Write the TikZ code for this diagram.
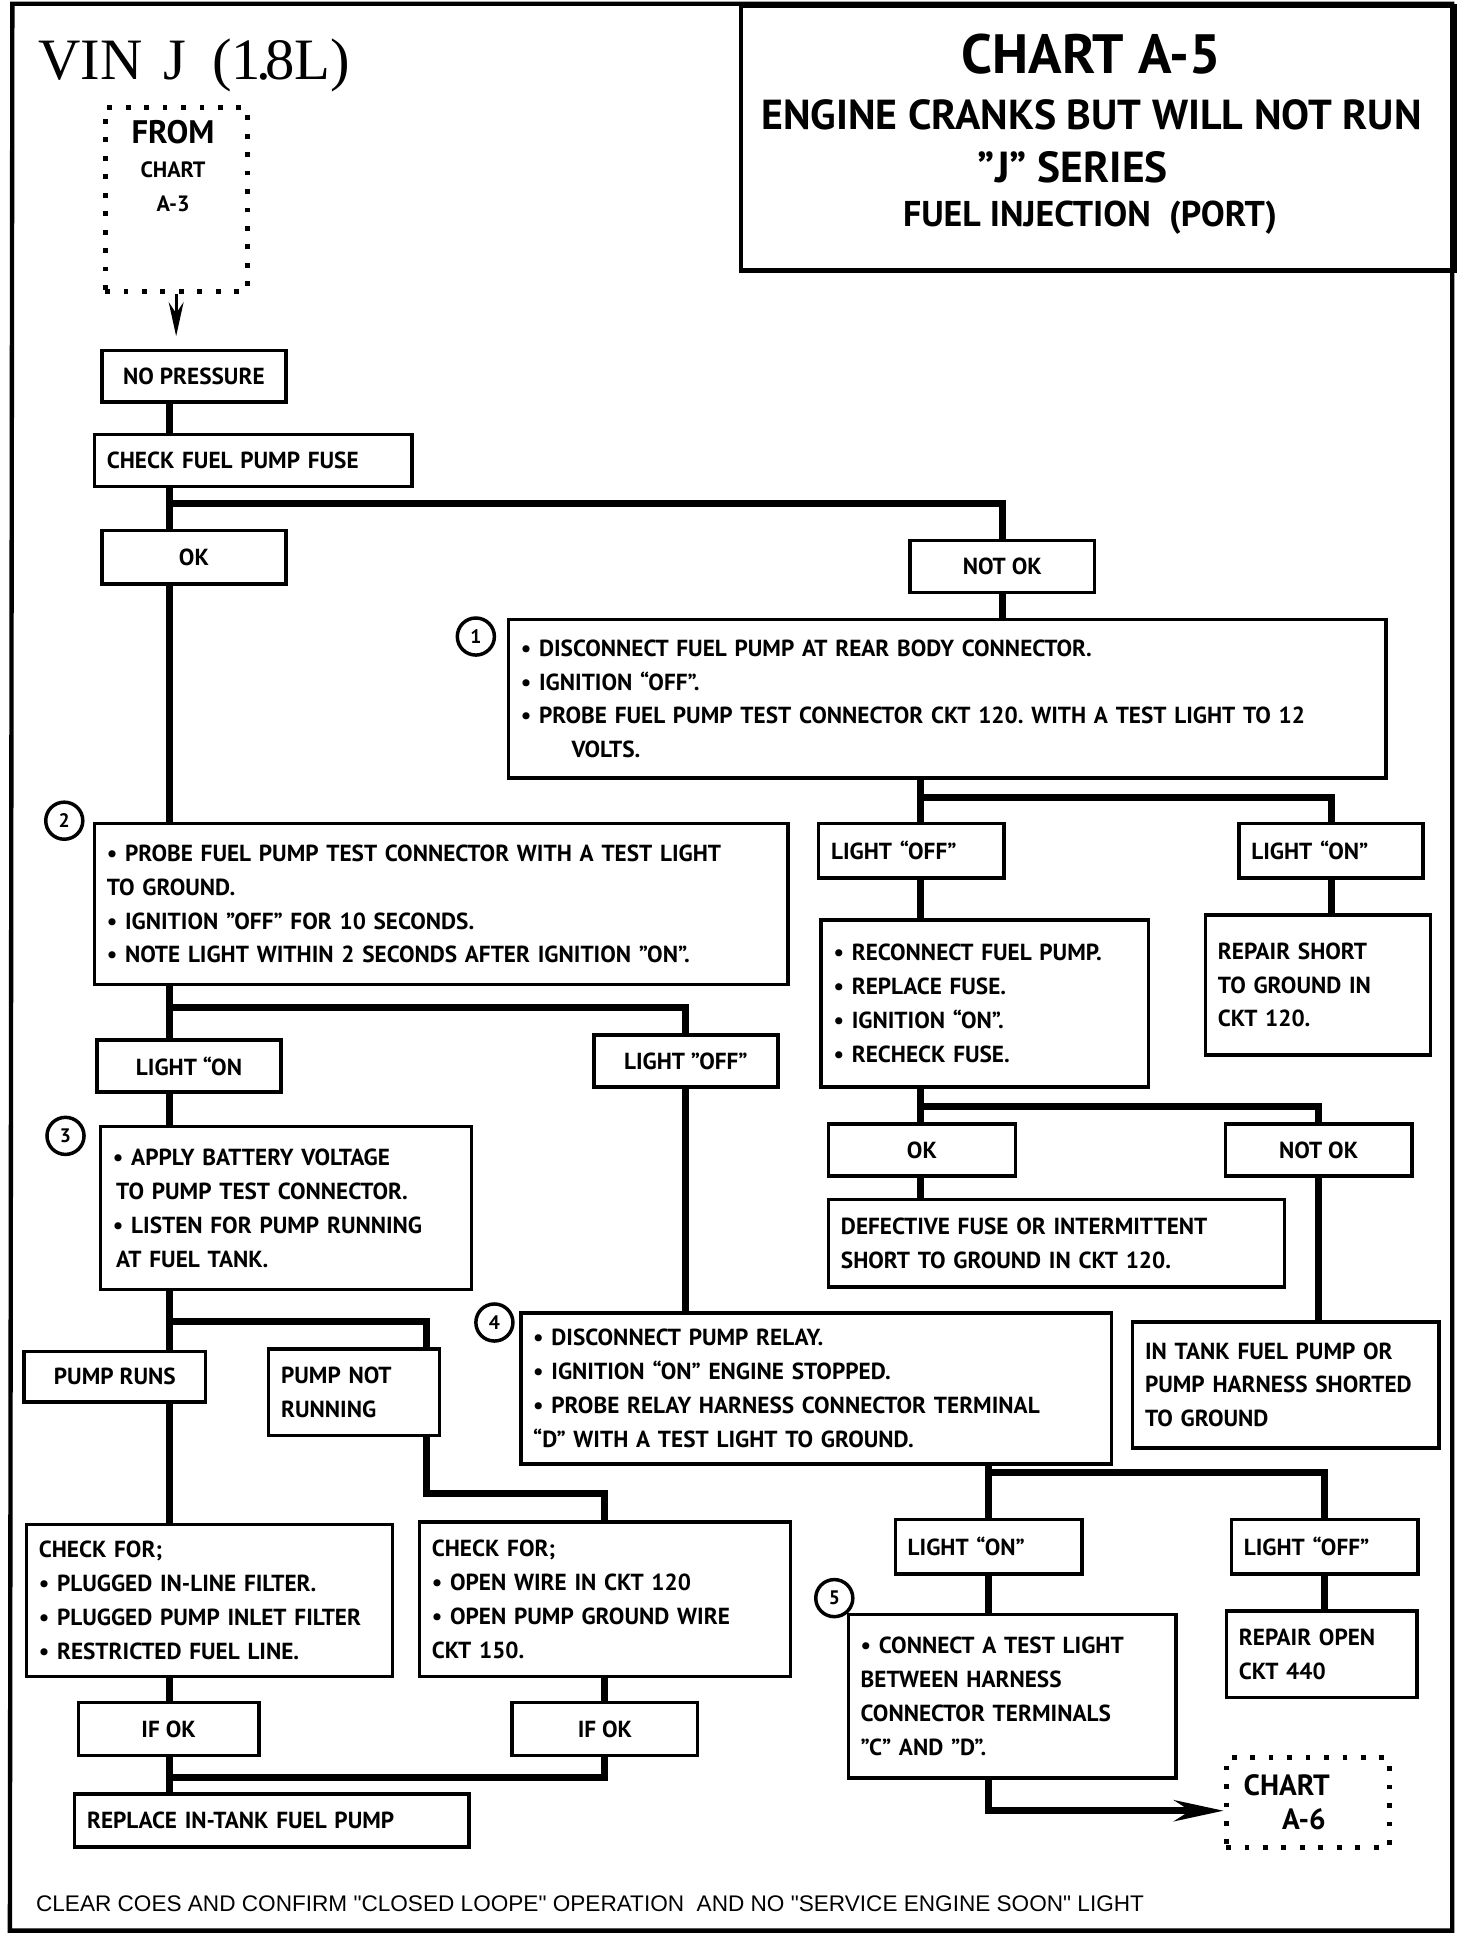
\documentclass[tikz,border=0pt]{standalone}
\usepackage{fontspec}
\setmainfont{PT Sans}
\newfontfamily\vinfont{Liberation Serif}
\newfontfamily\notefont{Liberation Sans}
\usetikzlibrary{arrows.meta,positioning,calc}

\def\pxu{0.02cm}
\newcommand{\boxfont}{\bfseries\fontsize{10.7}{15.6}\selectfont}
\newcommand{\bul}{\textbullet\ }
\frenchspacing

\begin{document}
\begin{tikzpicture}[
  x=0.02cm, y=-0.02cm,
  font=\boxfont,
  box/.style n args={2}{
      rectangle, draw, line width=1.6pt, anchor=north west,
      minimum width=#1*\pxu, minimum height=#2*\pxu, inner sep=0pt
  },
  cbox/.style n args={2}{box={#1}{#2}, align=center},
  tbox/.style n args={2}{box={#1}{#2},
      /utils/exec={\pgfmathsetlengthmacro\boxtw{(#1-20)*0.02cm}},
      text width=\boxtw, align=left},
  dotbox/.style n args={2}{box={#1}{#2}, line width=2.3pt,
      dash pattern=on 2.2pt off 6.3pt},
  numcirc/.style={circle, draw, fill=white, line width=1.6pt,
      minimum size=30*\pxu, inner sep=0pt,
      font=\bfseries\fontsize{9}{9}\selectfont},
  conn/.style={line width=3.2pt},
  thinarr/.style={-{Stealth[length=0.55cm,width=0.24cm]}, line width=1.4pt},
  bigarr/.style={-{Stealth[length=0.8cm,width=0.34cm]}, line width=3.2pt},
  frame/.style={line width=2pt},
  head/.style={font=\bfseries\fontsize{#1}{#1}\selectfont}
]
\useasboundingbox (0,0) rectangle (1191,1568);

% page frame and title block
\draw[frame] (10,3) -- (1175,3) -- (1175,1562) -- (8,1562) -- cycle;
\node[box={577}{214}, line width=2pt] (title) at (598,3) {};
\node[head=25.5] (ttla) at (883,44)  {CHART A-5};
\node[head=19.3] (ttlb) at (883,93)  {ENGINE CRANKS BUT WILL NOT RUN};
\node[head=20]   (ttlc) at (868,135) {”J” SERIES};
\node[head=16.5] (ttld) at (882,176) {FUEL INJECTION\ \ (PORT)};

\node[font=\vinfont\fontsize{27}{27}\selectfont, anchor=west] (vin) at (25,53)
     {VIN\hspace{0.35em}J\hspace{0.45em}(1\kern-0.09em.\kern-0.09em8L)};

% entry from chart A-3
\node[dotbox={115}{149}] (from3) at (83,85) {};
\node[head=15]   (froma) at (140,107) {FROM};
\node[head=10.2] (fromb) at (140,137) {CHART};
\node[head=10.2] (fromc) at (140,165) {A-3};

\node[cbox={149}{42}]  (nopress) at (81,282)  {NO PRESSURE};
\node[tbox={257}{42}]  (fusechk) at (75,350)  {CHECK FUEL PUMP FUSE};
\node[cbox={149}{43}]  (oka)     at (81,428)  {OK};
\node[cbox={149}{42}]  (notoka)  at (735,436) {NOT OK};

% fuse not ok branch
\node[tbox={710}{128}] (stepone) at (410,500) {\bul DISCONNECT FUEL PUMP AT REAR BODY CONNECTOR.\\
  \bul IGNITION “OFF”.\\
  \bul PROBE FUEL PUMP TEST CONNECTOR CKT 120. WITH A TEST LIGHT TO 12\\
  \hspace*{0.82cm}VOLTS.};
\node[tbox={150}{44}]  (offa)    at (661,665)  {LIGHT “OFF”};
\node[tbox={149}{44}]  (ona)     at (1001,665) {LIGHT “ON”};
\node[tbox={265}{135}] (refuse)  at (663,743)  {\bul RECONNECT FUEL PUMP.\\
  \bul REPLACE FUSE.\\ \bul IGNITION “ON”.\\ \bul RECHECK FUSE.};
\node[tbox={182}{113}] (shorta)  at (974,739)  {REPAIR SHORT\\ TO GROUND IN\\ CKT 120.};
\node[cbox={151}{42}]  (okb)     at (669,908)  {OK};
\node[cbox={151}{42}]  (notokb)  at (990,908)  {NOT OK};
\node[tbox={369}{71}]  (defect)  at (669,969)  {DEFECTIVE FUSE OR INTERMITTENT\\
  SHORT TO GROUND IN CKT 120.};
\node[tbox={248}{102}] (intank)  at (915,1068) {IN TANK FUEL PUMP OR\\
  PUMP HARNESS SHORTED\\ TO GROUND};

% fuse ok branch
\node[tbox={561}{130}] (steptwo) at (75,665) {\bul PROBE FUEL PUMP TEST CONNECTOR WITH A TEST LIGHT\\
  TO GROUND.\\ \bul IGNITION ”OFF” FOR 10 SECONDS.\\
  \bul NOTE LIGHT WITHIN 2 SECONDS AFTER IGNITION ”ON”.};
\node[cbox={149}{42}]  (onb)     at (77,840)  {LIGHT “ON};
\node[cbox={149}{42}]  (offb)    at (479,836) {LIGHT ”OFF”};
\node[tbox={300}{132}] (stepthree) at (80,910) {\bul APPLY BATTERY VOLTAGE\\
  \hspace*{1.5pt}TO PUMP TEST CONNECTOR.\\ \bul LISTEN FOR PUMP RUNNING\\
  \hspace*{1.5pt}AT FUEL TANK.};
\node[cbox={147}{41}]  (runs)    at (18,1092)  {PUMP RUNS};
\node[tbox={138}{70}]  (notrun)  at (216,1090) {PUMP NOT\\ RUNNING};
\node[tbox={296}{123}] (checka)  at (20,1232)  {CHECK FOR;\\
  \bul PLUGGED IN-LINE FILTER.\\ \bul PLUGGED PUMP INLET FILTER\\
  \bul RESTRICTED FUEL LINE.};
\node[tbox={300}{125}] (checkb)  at (338,1230) {CHECK FOR;\\
  \bul OPEN WIRE IN CKT 120\\ \bul OPEN PUMP GROUND WIRE\\ CKT 150.};
\node[cbox={146}{43}]  (ifoka)   at (62,1376)  {IF OK};
\node[cbox={150}{43}]  (ifokb)   at (413,1376) {IF OK};
\node[tbox={319}{43}]  (replace) at (59,1450)  {REPLACE IN-TANK FUEL PUMP};

% relay check
\node[tbox={478}{122}] (stepfour) at (420,1061) {\bul DISCONNECT PUMP RELAY.\\
  \bul IGNITION “ON” ENGINE STOPPED.\\
  \bul PROBE RELAY HARNESS CONNECTOR TERMINAL\\
  “D” WITH A TEST LIGHT TO GROUND.};
\node[tbox={151}{44}]  (onc)     at (723,1228) {LIGHT “ON”};
\node[tbox={151}{44}]  (offc)    at (995,1228) {LIGHT “OFF”};
\node[tbox={265}{132}] (stepfive) at (685,1305) {\bul CONNECT A TEST LIGHT\\
  BETWEEN HARNESS\\ CONNECTOR TERMINALS\\ ”C” AND ”D”.};
\node[tbox={154}{70}]  (openb)   at (991,1302) {REPAIR OPEN\\ CKT 440};
\node[dotbox={132}{73}] (chartsix) at (990,1420) {};
\node[head=13.5, anchor=west] (sixa) at (1000,1444) {CHART};
\node[head=13.5] (sixb) at (1055,1472) {A-6};

% step numbers
\node[numcirc] (numa) at (385,515)  {1};
\node[numcirc] (numb) at (52,664)   {2};
\node[numcirc] (numc) at (53,919)   {3};
\node[numcirc] (numd) at (400,1070) {4};
\node[numcirc] (nume) at (675,1293) {5};

% junctions
\coordinate (cola) at (137,0);
\coordinate (ja) at (137,407);
\coordinate (jb) at (745,645);
\coordinate (jc) at (745,895);
\coordinate (jd) at (137,815);
\coordinate (je) at (137,1069);
\coordinate (jf) at (345,1208);
\coordinate (jg) at (137,1438);
\coordinate (jh) at (800,1191);
\coordinate (ji) at (800,1465);

% connectors
\draw[thinarr, shorten >=0.2cm] (from3.south) -- (from3.south |- nopress.north);
\draw[conn] (nopress.south -| cola) -- (fusechk.north -| cola);
\draw[conn] (fusechk.south -| cola) -- (oka.north -| cola);
\draw[conn] (ja) -| (notoka.north);
\draw[conn] (notoka.south) -- (stepone.north -| notoka.south);
\draw[conn] (stepone.south -| jb) -- (offa.north -| jb);
\draw[conn] (jb) -| (ona.north);
\draw[conn] (offa.south -| jb) -- (refuse.north -| jb);
\draw[conn] (ona.south) -- (shorta.north -| ona.south);
\draw[conn] (refuse.south -| jc) -- (okb.north -| jc);
\draw[conn] (jc) -| (notokb.north);
\draw[conn] (okb.south -| jc) -- (defect.north -| jc);
\draw[conn] (notokb.south) -- (intank.north -| notokb.south);

\draw[conn] (oka.south -| cola) -- (steptwo.north -| cola);
\draw[conn] (steptwo.south -| cola) -- (onb.north -| cola);
\draw[conn] (jd) -| (offb.north);
\draw[conn] (onb.south -| cola) -- (stepthree.north -| cola);
\draw[conn] (offb.south) -- (stepfour.north -| offb.south);
\draw[conn] (stepthree.south -| cola) -- (runs.north -| cola);
\draw[conn] (je) -| (notrun.north -| jf);
\draw[conn] (runs.south -| cola) -- (checka.north -| cola);
\draw[conn] (notrun.south -| jf) -- (jf) -| (checkb.north);
\draw[conn] (checka.south -| cola) -- (ifoka.north -| cola);
\draw[conn] (checkb.south) -- (ifokb.north);
\draw[conn] (ifoka.south -| cola) -- (replace.north -| cola);
\draw[conn] (ifokb.south) |- (jg);

\draw[conn] (stepfour.south -| jh) -- (onc.north -| jh);
\draw[conn] (jh) -| (offc.north);
\draw[conn] (onc.south -| jh) -- (stepfive.north -| jh);
\draw[conn] (offc.south) -- (openb.north -| offc.south);
\draw[bigarr] (stepfive.south -| ji) -- (ji) -- (chartsix.west |- ji);

% footer
\node[font=\notefont\fontsize{10.4}{10.4}\selectfont, anchor=west] (foot) at (23,1540)
     {CLEAR COES AND CONFIRM "CLOSED LOOPE" OPERATION\ \ AND NO "SERVICE ENGINE SOON" LIGHT};
\end{tikzpicture}
\end{document}
